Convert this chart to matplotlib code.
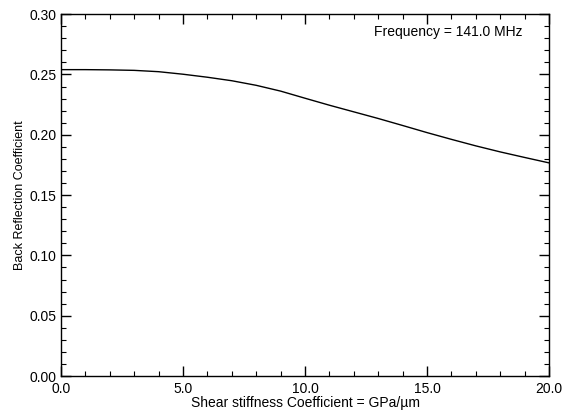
import matplotlib
matplotlib.use("Agg")
import matplotlib.pyplot as plt
from matplotlib.ticker import MultipleLocator, FormatStrFormatter

# data
stiffness = [0, 1, 2, 3, 4, 5, 6, 7, 8, 9, 10, 11, 12, 13, 14, 15, 16, 17, 18, 19, 20]
reflection = [0.254, 0.254, 0.2538, 0.2534, 0.2523, 0.2502, 0.2477, 0.2448, 0.241,
              0.2362, 0.2303, 0.2245, 0.219, 0.2135, 0.2077, 0.2018, 0.1962,
              0.1908, 0.1858, 0.1812, 0.1767]

plt.rcParams['font.family'] = ['Liberation Sans', 'DejaVu Sans']

fig = plt.figure(figsize=(5.62, 4.16), dpi=100)
ax = fig.add_axes([0.1085, 0.096, 0.8685, 0.87])

ax.plot(stiffness, reflection, color="black", linewidth=1.0)

ax.set_xlim(0, 20)
ax.set_ylim(0, 0.30)
ax.xaxis.set_major_locator(MultipleLocator(5))
ax.xaxis.set_minor_locator(MultipleLocator(1))
ax.yaxis.set_major_locator(MultipleLocator(0.05))
ax.yaxis.set_minor_locator(MultipleLocator(0.01))
ax.xaxis.set_major_formatter(FormatStrFormatter("%.1f"))
ax.yaxis.set_major_formatter(FormatStrFormatter("%.2f"))
ax.tick_params(which="both", direction="in", top=True, right=True, labelsize=10)
ax.tick_params(axis="x", pad=4)
ax.tick_params(axis="y", pad=3)
ax.tick_params(which="major", length=7, width=1)
ax.tick_params(which="minor", length=3.5, width=0.8)
for s in ax.spines.values():
    s.set_linewidth(1.0)

ax.set_xlabel("Shear stiffness Coefficient = GPa/\u00b5m", fontsize=10, labelpad=0)
ax.set_ylabel("Back Reflection Coefficient", fontsize=9, labelpad=3)
ax.text(0.945, 0.95, "Frequency = 141.0 MHz", transform=ax.transAxes,
        ha="right", va="center", fontsize=10)

fig.savefig("out.png", dpi=100)
